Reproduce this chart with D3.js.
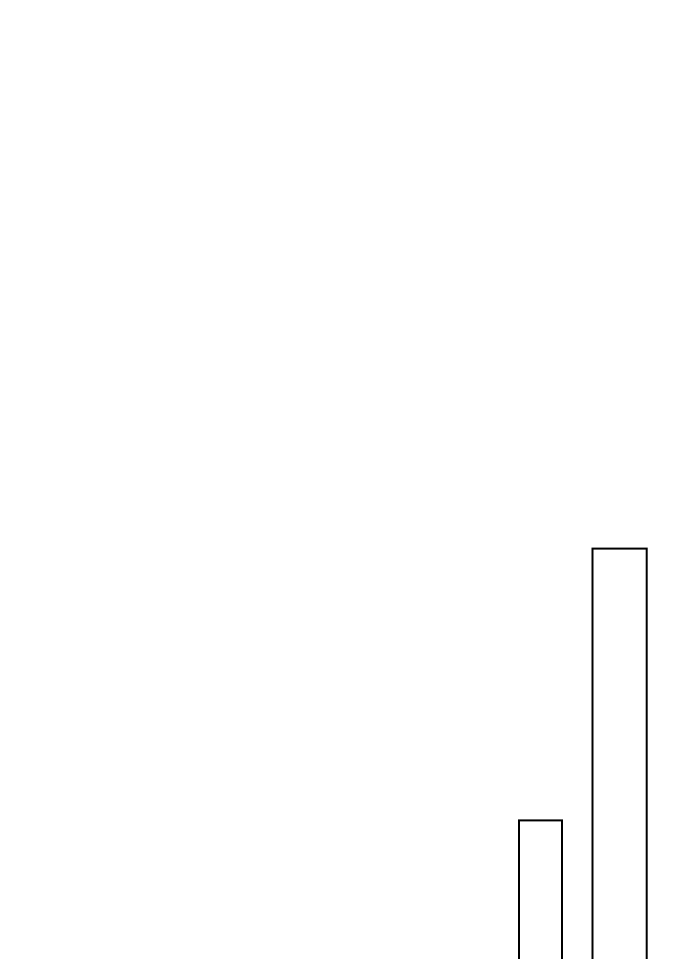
<!DOCTYPE html>
<html>
<head>
    <title>Bars</title>
    <script src="https://d3js.org/d3.v7.min.js"></script>
    <style>
        html, body { margin: 0; padding: 0; overflow: hidden; background: #fff; }
    </style>
</head>
<body>
<script>
// Bins of uneven width (bars run past the bottom edge)
const bins = ['bin1', 'bin2'];
const binStart = [51.9, 59.25];
const binEnd = [56.2, 64.67];
const counts = [4.66, 9.19];

const width = 690;
const height = 959;

const svg = d3.select('body')
    .append('svg')
    .attr('width', width)
    .attr('height', height);

const xScale = d3.scaleLinear()
    .domain([0, 69])
    .range([0, width]);

// baseline sits below the visible area
const yScale = d3.scaleLinear()
    .domain([0, 10])
    .range([1100, 500]);

const data = bins.map((b, i) => ({ bin: b, x0: binStart[i], x1: binEnd[i], value: counts[i] }));

svg.selectAll('rect')
    .data(data)
    .enter()
    .append('rect')
    .attr('x', d => xScale(d.x0))
    .attr('y', d => yScale(d.value))
    .attr('width', d => xScale(d.x1) - xScale(d.x0))
    .attr('height', d => yScale(0) - yScale(d.value))
    .attr('fill', '#fff')
    .attr('stroke', '#000')
    .attr('stroke-width', 2);
</script>
</body>
</html>
